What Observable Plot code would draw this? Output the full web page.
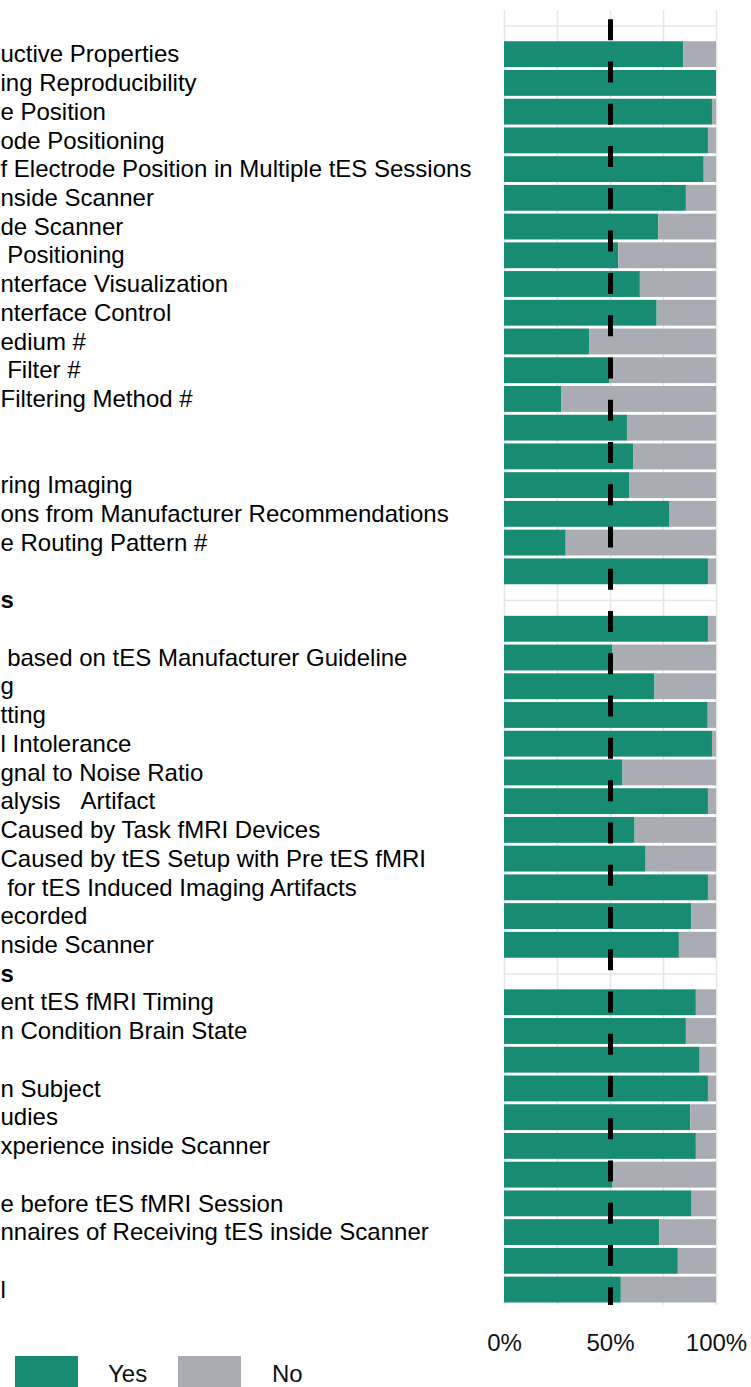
<!DOCTYPE html>
<html>
<head>
<meta charset="utf-8">
<script src="https://cdn.jsdelivr.net/npm/d3@7"></script>
<script src="https://cdn.jsdelivr.net/npm/@observablehq/plot@0.6"></script>
<style>
  html, body { margin: 0; padding: 0; background: #fff; overflow: hidden; }
  body { font-family: "Liberation Sans", Arial, Helvetica, sans-serif; width: 751px; height: 1387px; }
  #chart svg { display: block; }
  #legend { position: relative; height: 31px; width: 751px; font-size: 24px; color: #111; }
  #legend .sw { position: absolute; top: 0; width: 63px; height: 63px; }
  #legend .lb { position: absolute; top: 6px; line-height: 24px; white-space: nowrap; }
</style>
</head>
<body>
<div id="chart"></div>
<div id="legend"></div>
<script>
// Visible (left-cropped) row labels, top to bottom; header rows are bold.
const rowLabels = [
  "",
  "uctive Properties",
  "ing Reproducibility",
  "e Position",
  "ode Positioning",
  "f Electrode Position in Multiple tES Sessions",
  "nside Scanner",
  "de Scanner",
  "\u00a0Positioning",
  "nterface Visualization",
  "nterface Control",
  "edium #",
  "\u00a0Filter #",
  "Filtering Method #",
  "",
  "",
  "ring Imaging",
  "ons from Manufacturer Recommendations",
  "e Routing Pattern #",
  "",
  "s",
  "",
  "\u00a0based on tES Manufacturer Guideline",
  "g",
  "tting",
  "l Intolerance",
  "gnal to Noise Ratio",
  "alysis\u00a0\u00a0\u00a0Artifact",
  "Caused by Task fMRI Devices",
  "Caused by tES Setup with Pre tES fMRI",
  "\u00a0for tES Induced Imaging Artifacts",
  "ecorded",
  "nside Scanner",
  "s",
  "ent tES fMRI Timing",
  "n Condition Brain State",
  "",
  "n Subject",
  "udies",
  "xperience inside Scanner",
  "",
  "e before tES fMRI Session",
  "nnaires of Receiving tES inside Scanner",
  "",
  "l"
];
const headerRows = [0, 20, 33];
// Percentage answering "Yes" (null = group header row without a bar)
const yesPct = [
  null,
  84.6, 100, 98.1, 96.2, 94.2, 85.8, 72.8, 53.9, 64.1, 72.0,
  40.3, 49.8, 27.1, 58.0, 60.9, 59.2, 78.1, 29.1, 96.2,
  null,
  96.2, 51.2, 71.0, 96.1, 98.1, 55.9, 96.2, 61.6, 66.8, 96.2, 88.3, 82.5,
  null,
  90.5, 85.8, 92.3, 96.2, 87.9, 90.5, 51.2, 88.5, 73.2, 82.0, 55.1
];
const answers = ["Yes", "No"];
const answerColors = ["#178c72", "#a9adb3"];
const xTicks = [0, 50, 100];
const xGrid = [0, 25, 50, 75, 100];
const threshold = [50];

const rowIds = rowLabels.map((_, i) => "row" + i);
const bars = [];
yesPct.forEach((v, i) => {
  if (v == null) return;
  bars.push({row: rowIds[i], answer: "Yes", pct: v});
  bars.push({row: rowIds[i], answer: "No", pct: 100 - v});
});
const labelRows = rowLabels.map((label, i) => ({row: rowIds[i], label, header: headerRows.includes(i)}));

const font = "'Liberation Sans', Arial, Helvetica, sans-serif";
const mL = 504, mR = 35, mT = 10, mB = 51;

const chart = Plot.plot({
  width: 751,
  height: 1356,
  marginLeft: mL,
  marginRight: mR,
  marginTop: mT,
  marginBottom: mB,
  style: {fontFamily: font, fontSize: "24px", background: "#fff", color: "#111", overflow: "visible"},
  x: {domain: [0, 100], label: null, axis: null},
  y: {type: "band", domain: rowIds, paddingInner: 0.1, paddingOuter: 0.0875, align: 0.5, axis: null, label: null},
  color: {domain: answers, range: answerColors},
  marks: [
    Plot.gridX(xGrid, {stroke: "#e6e6e6", strokeOpacity: 1, strokeWidth: 1.6}),
    Plot.gridY(rowIds, {stroke: "#e6e6e6", strokeOpacity: 1, strokeWidth: 1.6}),
    Plot.barX(bars, {x: "pct", y: "row", fill: "answer", order: answers}),
    Plot.ruleX(threshold, {stroke: "#000", strokeWidth: 5, strokeDasharray: "21,21.27", strokeDashoffset: 33}),
    Plot.axisX(xTicks, {tickSize: 0, tickPadding: 28, tickFormat: d => d + "%", fontSize: 24, fill: "#111", label: null}),
    Plot.text(labelRows.filter(d => !d.header), {y: "row", text: "label", frameAnchor: "left", textAnchor: "start", dx: -mL, fontSize: 24, fill: "#000"}),
    Plot.text(labelRows.filter(d => d.header), {y: "row", text: "label", frameAnchor: "left", textAnchor: "start", dx: -mL, fontSize: 24, fontWeight: "bold", fill: "#000"})
  ]
});
document.getElementById("chart").appendChild(chart);

// Legend below the SVG
const legend = document.getElementById("legend");
const legendPos = [{sw: 15, lb: 108}, {sw: 178, lb: 272}];
answers.forEach((a, i) => {
  const sw = document.createElement("div");
  sw.className = "sw";
  sw.style.left = legendPos[i].sw + "px";
  sw.style.background = answerColors[i];
  legend.appendChild(sw);
  const lb = document.createElement("div");
  lb.className = "lb";
  lb.style.left = legendPos[i].lb + "px";
  lb.textContent = a;
  legend.appendChild(lb);
});
</script>
</body>
</html>
